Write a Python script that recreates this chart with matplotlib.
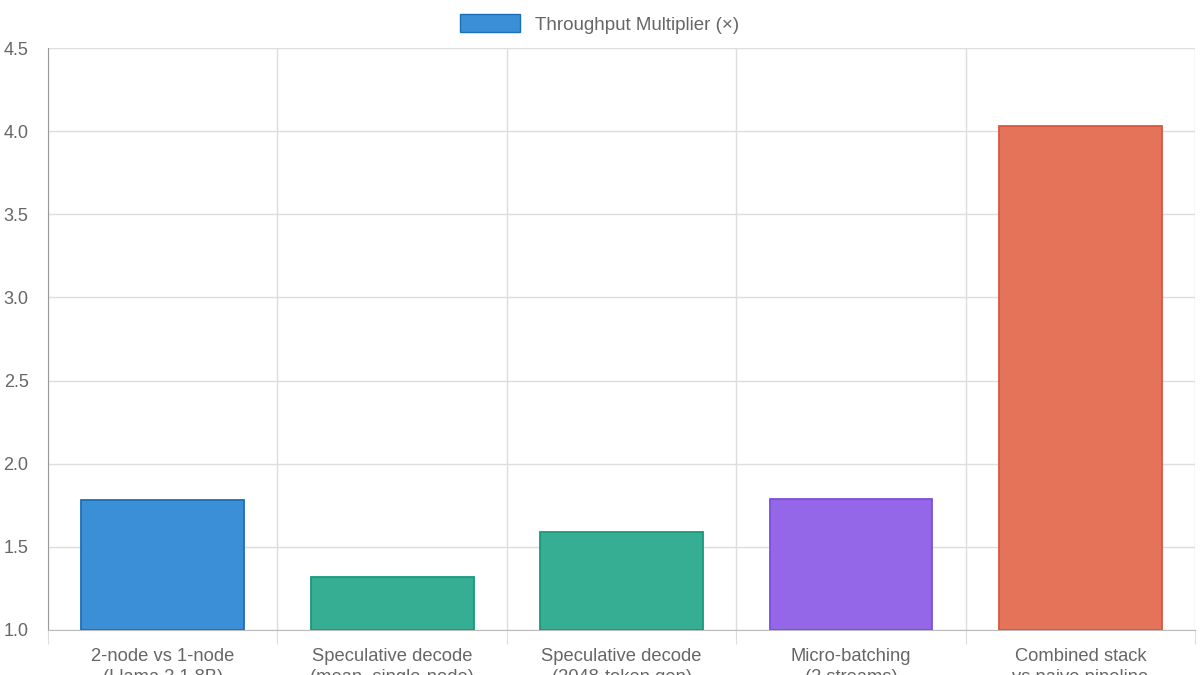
import numpy as np
import matplotlib.pyplot as plt

labels = ['2-node vs 1-node\n(Llama 3.1 8B)', 'Speculative decode\n(mean, single-node)',
          'Speculative decode\n(2048-token gen)', 'Micro-batching\n(2 streams)',
          'Combined stack\nvs naive pipeline']
values = [1.78, 1.32, 1.59, 1.79, 4.03]
fills = ['#3a8fd6', '#36ae94', '#36ae94', '#9466e8', '#e5735a']
edges = ['#1a6fb8', '#169a7c', '#169a7c', '#7b4fd8', '#d9573f']

plt.rcParams['font.family'] = ['Liberation Sans', 'DejaVu Sans']
fig = plt.figure(figsize=(12, 6.75), dpi=100)
ax = fig.add_axes([0.04, 0.0667, 0.956, 0.862])

x = np.arange(len(values))
ax.bar(x, np.array(values) - 1.0, bottom=1.0, width=0.71, color=fills,
       edgecolor=edges, linewidth=1.3, zorder=3)
ax.set_xlim(-0.5, len(values) - 0.5)
ax.set_ylim(1.0, 4.5)
ax.set_yticks(np.arange(1.0, 4.51, 0.5))
ax.set_yticklabels([f'{v:.1f}' for v in np.arange(1.0, 4.51, 0.5)], color='#666666', fontsize=13)

ax.set_xticks(np.arange(-0.5, len(values)))
ax.set_xticklabels([])
ax.tick_params(axis='x', length=10, color='#dddddd')
ax.tick_params(axis='y', length=0, pad=14)
for i, lab in enumerate(labels):
    ax.text(i, 0.89, lab, ha='center', va='top', fontsize=13.2, color='#666666',
            linespacing=1.3, clip_on=False)

ax.grid(True, color='#dddddd', linewidth=1, zorder=0)
for s in ['top', 'right']:
    ax.spines[s].set_visible(False)
ax.spines['left'].set_color('#999999')
ax.spines['bottom'].set_color('#bbbbbb')

h = plt.Rectangle((0, 0), 1, 1, facecolor='#3a8fd6', edgecolor='#1a6fb8')
fig.legend([h], ['Throughput Multiplier (×)'], loc='upper center', bbox_to_anchor=(0.5, 1.004),
           frameon=False, fontsize=13.5, labelcolor='#666666', handlelength=3.2, handleheight=1.1)

fig.savefig('out.png', dpi=100)
